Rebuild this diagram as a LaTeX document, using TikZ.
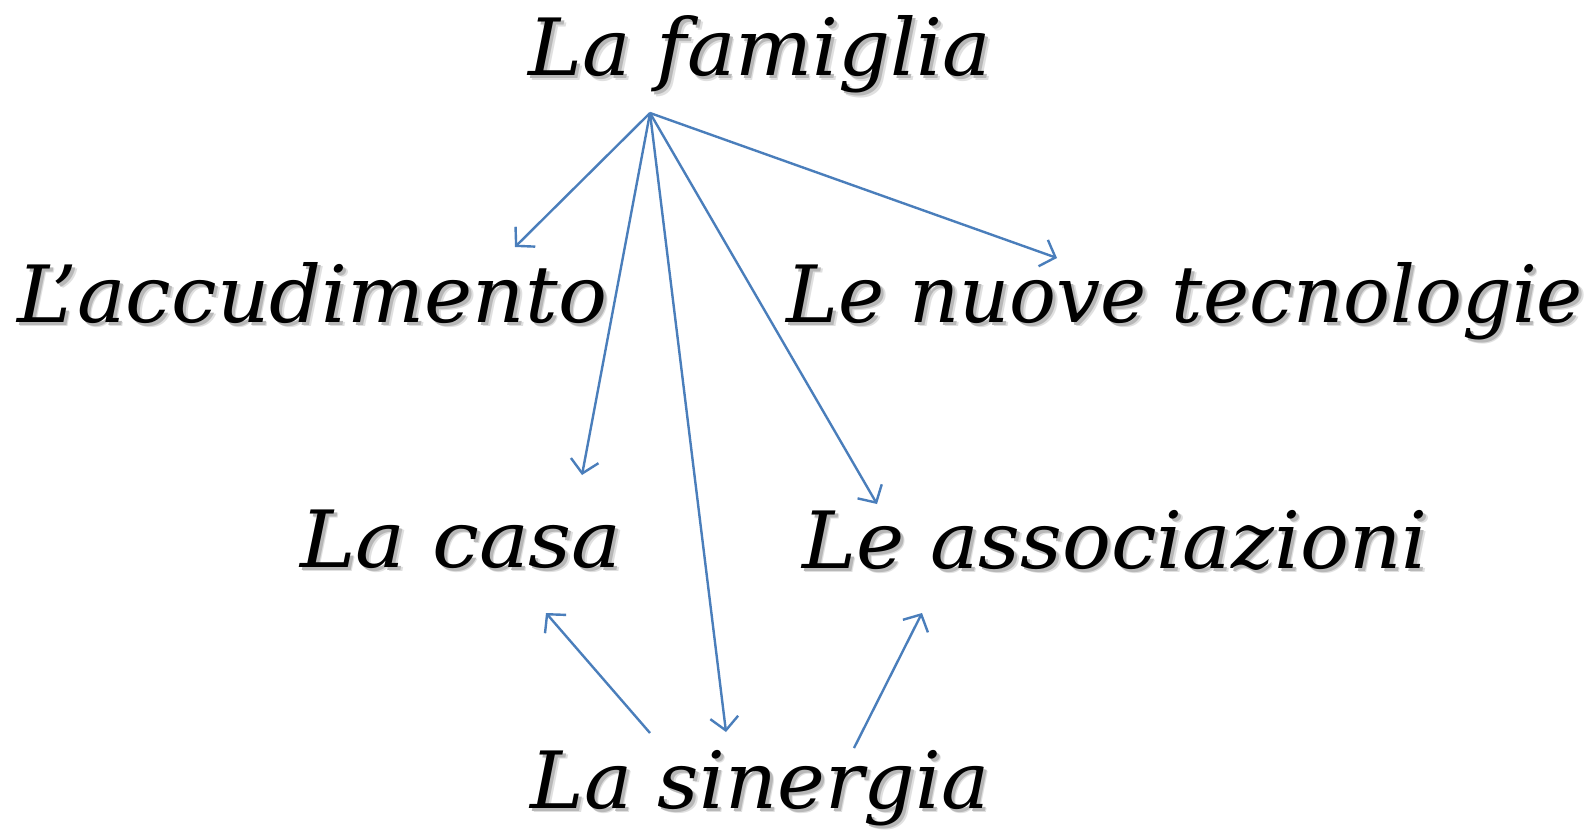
\documentclass[tikz,border=0pt]{standalone}
\usepackage{fontspec}
\setmainfont{DejaVu Serif}
\usetikzlibrary{arrows.meta}
\definecolor{arrowblue}{HTML}{4A7EBB}
\tikzset{
  lbl/.style={font=\fontsize{79}{95}\selectfont\itshape, anchor=base, inner sep=0pt, text=black},
  conn/.style={draw=arrowblue, line width=2.4pt, -{Straight Barb[length=13pt,width=28pt,line width=2.4pt]}}
}
\newcommand{\shtext}[2]{%
  \rlap{\color{black!12}\hspace{4.5pt}\raisebox{-4.5pt}{\scalebox{#1}[1]{#2}}}%
  \rlap{\color{black!28}\hspace{3pt}\raisebox{-3pt}{\scalebox{#1}[1]{#2}}}%
  \scalebox{#1}[1]{#2}}
\begin{document}
\begin{tikzpicture}[x=1pt,y=-1pt]
\useasboundingbox[fill=white] (0,0) rectangle (1589,832);
\node[lbl] (fam) at (760,76) {\shtext{1.03}{La famiglia}};
\node[lbl] (acc) at (312,322) {\shtext{1.03}{L’accudimento}};
\node[lbl] (tec) at (1185,322) {\shtext{0.987}{Le nuove tecnologie}};
\node[lbl] (casa) at (461,567) {\shtext{1.06}{La casa}};
\node[lbl] (ass) at (1115,568) {\shtext{1.03}{Le associazioni}};
\node[lbl] (sin) at (760,808) {\shtext{1.022}{La sinergia}};
\coordinate (hub) at (650,113);
\coordinate (accE) at (515,247);
\coordinate (casaE) at (582,475);
\coordinate (sinE) at (726,732);
\coordinate (assE) at (877,504);
\coordinate (tecE) at (1057,258);
\coordinate (sinL) at (650,733);
\coordinate (casaB) at (546,613);
\coordinate (sinR) at (854,748);
\coordinate (assB) at (922,613);
\draw[conn] (hub) -- (accE);
\draw[conn] (hub) -- (casaE);
\draw[conn] (hub) -- (sinE);
\draw[conn] (hub) -- (assE);
\draw[conn] (hub) -- (tecE);
\draw[conn] (sinL) -- (casaB);
\draw[conn] (sinR) -- (assB);
\end{tikzpicture}
\end{document}
